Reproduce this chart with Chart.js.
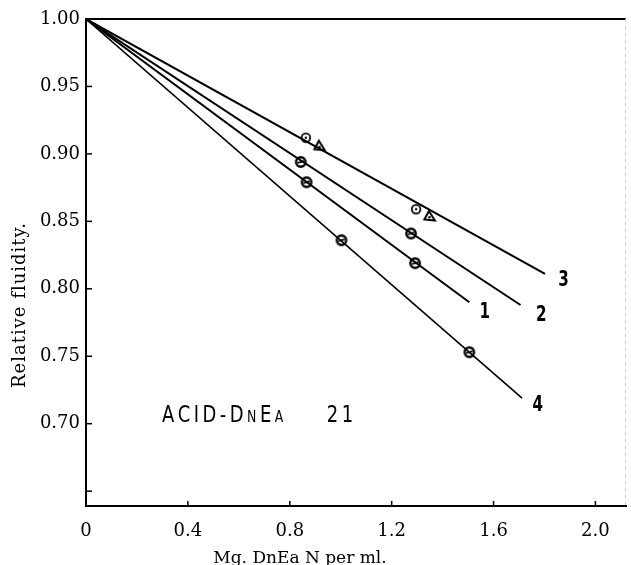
<!DOCTYPE html>
<html>
<head>
<meta charset="utf-8">
<style>
  html, body { margin: 0; padding: 0; background: #fff; }
  #grafico { display: block; }
</style>
</head>
<body>
<canvas id="grafico" width="631" height="565"></canvas>
<script src="https://cdn.jsdelivr.net/npm/chart.js@4/dist/chart.umd.min.js"></script>
<script>
// Eixos
const xTicks = [0, 0.4, 0.8, 1.2, 1.6, 2.0];
const xLabels = ['0', '0.4', '0.8', '1.2', '1.6', '2.0'];
const yTicks = [0.65, 0.70, 0.75, 0.80, 0.85, 0.90, 0.95, 1.00];
const yLabels = ['', '0.70', '0.75', '0.80', '0.85', '0.90', '0.95', '1.00'];

// Retas: todas partem de (0, 1.00)
const lineNames = ['1', '2', '3', '4'];
const lineStartX = [0, 0, 0, 0];
const lineStartY = [1.00, 1.00, 1.00, 1.00];
const lineEndX = [1.505, 1.706, 1.802, 1.712];
const lineEndY = [0.790, 0.788, 0.811, 0.719];

// Pontos medidos
const curve1X = [0.866, 1.292];
const curve1Y = [0.879, 0.819];
const curve2X = [0.843, 1.276];
const curve2Y = [0.894, 0.841];
const curve3X = [0.863, 1.296];
const curve3Y = [0.912, 0.859];
const curve3TriX = [0.918, 1.350];
const curve3TriY = [0.906, 0.854];
const curve4X = [1.003, 1.505];
const curve4Y = [0.836, 0.753];

// Rotulos das retas
const lineLabelX = [1.564, 1.786, 1.874, 1.773];
const lineLabelY = [0.784, 0.782, 0.808, 0.715];

const noteText = [['ACID-D', 1], ['N', 0], ['E', 1], ['A', 0], ['21', 1]];
const noteX = 0.298;
const noteY = 0.707;

function pontos(xs, ys) {
    return xs.map((x, i) => ({ x: x, y: ys[i] }));
}

// Marcadores desenhados a mao
function marcador(tipo) {
    const c = document.createElement('canvas');
    c.width = 16; c.height = 16;
    const g = c.getContext('2d');
    g.strokeStyle = '#000';
    g.fillStyle = '#fff';
    if (tipo === 'circuloPonto') {
        g.lineWidth = 1.8;
        g.beginPath(); g.arc(8, 8, 4.3, 0, Math.PI * 2); g.fill(); g.stroke();
        g.fillStyle = '#000';
        g.beginPath(); g.arc(8, 8, 1.2, 0, Math.PI * 2); g.fill();
    } else if (tipo === 'circuloBarra') {
        g.lineWidth = 2.4;
        g.beginPath(); g.arc(8, 8, 4.7, 0, Math.PI * 2); g.fill(); g.stroke();
        g.lineWidth = 1.8;
        g.beginPath(); g.moveTo(5.0, 8.9); g.lineTo(11.0, 7.1); g.stroke();
    } else {
        g.lineWidth = 2;
        g.beginPath(); g.moveTo(7, 3); g.lineTo(13, 12.5); g.lineTo(2.5, 11.5); g.closePath();
        g.fill(); g.stroke();
        g.fillStyle = '#000';
        g.beginPath(); g.arc(7.6, 9.2, 1.2, 0, Math.PI * 2); g.fill();
    }
    return c;
}

const datasets = [];
lineNames.forEach((nome, i) => {
    datasets.push({
        label: 'Reta ' + nome,
        data: [{ x: lineStartX[i], y: lineStartY[i] }, { x: lineEndX[i], y: lineEndY[i] }],
        showLine: true,
        borderColor: '#000',
        borderWidth: i === 3 ? 1.6 : 2,
        pointRadius: 0,
        fill: false
    });
});
datasets.push({ label: 'Curva 1', data: pontos(curve1X, curve1Y), pointStyle: marcador('circuloBarra') });
datasets.push({ label: 'Curva 2', data: pontos(curve2X, curve2Y), pointStyle: marcador('circuloBarra') });
datasets.push({ label: 'Curva 3', data: pontos(curve3X, curve3Y), pointStyle: marcador('circuloPonto') });
datasets.push({ label: 'Curva 3b', data: pontos(curve3TriX, curve3TriY), pointStyle: marcador('triangulo') });
datasets.push({ label: 'Curva 4', data: pontos(curve4X, curve4Y), pointStyle: marcador('circuloBarra') });

// Texto "manuscrito" comprimido na horizontal
function escreveMao(ctx, texto, x, y, fonte, aperto, espaco) {
    ctx.save();
    ctx.font = fonte;
    ctx.textBaseline = 'alphabetic';
    ctx.textAlign = 'left';
    let px = x;
    for (const ch of texto) {
        ctx.save();
        ctx.translate(px, y);
        ctx.scale(aperto, 1);
        ctx.fillText(ch, 0, 0);
        ctx.restore();
        px += ctx.measureText(ch).width * aperto + espaco;
    }
    ctx.restore();
    return px;
}

const moldura = {
    id: 'moldura',
    afterDraw(chart) {
        const ctx = chart.ctx;
        const a = chart.chartArea;
        const xs = chart.scales.x, ys = chart.scales.y;
        ctx.save();
        ctx.fillStyle = '#000';
        ctx.strokeStyle = '#000';

        // linha superior e direita
        ctx.lineWidth = 2;
        ctx.beginPath(); ctx.moveTo(a.left, a.top); ctx.lineTo(a.right, a.top); ctx.stroke();
        ctx.strokeStyle = '#ccc';
        ctx.lineWidth = 1;
        ctx.setLineDash([3, 4]);
        ctx.beginPath(); ctx.moveTo(a.right - 0.5, a.top); ctx.lineTo(a.right - 0.5, a.bottom); ctx.stroke();
        ctx.setLineDash([]);

        // marcas para dentro
        ctx.strokeStyle = '#000';
        ctx.lineWidth = 1.5;
        yTicks.forEach(v => {
            if (v >= 1) return;
            const py = ys.getPixelForValue(v);
            ctx.beginPath(); ctx.moveTo(a.left, py); ctx.lineTo(a.left + 6, py); ctx.stroke();
        });
        xTicks.forEach(v => {
            if (v === 0) return;
            const px = xs.getPixelForValue(v);
            ctx.beginPath(); ctx.moveTo(px, a.bottom); ctx.lineTo(px, a.bottom - 5); ctx.stroke();
        });

        // titulos dos eixos
        ctx.font = '17px "DejaVu Serif"';
        ctx.textAlign = 'center';
        ctx.textBaseline = 'alphabetic';
        ctx.fillText('Mg. DnEa N per ml.', 300, 563);
        ctx.save();
        ctx.translate(25, 305);
        ctx.rotate(-Math.PI / 2);
        ctx.font = '18px "DejaVu Serif"';
        ctx.letterSpacing = '1px';
        ctx.fillText('Relative fluidity.', 0, 0);
        ctx.restore();

        // numeros das retas
        lineNames.forEach((nome, i) => {
            const px = xs.getPixelForValue(lineLabelX[i]);
            const py = ys.getPixelForValue(lineLabelY[i]);
            escreveMao(ctx, nome, px - 5, py + 8, 'bold 21px "DejaVu Sans"', 0.72, 0);
        });

        // anotacao
        let px = xs.getPixelForValue(noteX);
        const py = ys.getPixelForValue(noteY) + 8;
        noteText.forEach(([txt, grande], k) => {
            if (k === noteText.length - 1) px += 40;
            const f = grande ? '23px "DejaVu Sans"' : '16px "DejaVu Sans"';
            px = escreveMao(ctx, txt, px, py, f, 0.78, 3.5);
        });
        ctx.restore();
    }
};

const ctx = document.getElementById('grafico').getContext('2d');
const grafico = new Chart(ctx, {
    type: 'scatter',
    data: { datasets: datasets },
    options: {
        responsive: false,
        animation: false,
        layout: { padding: { top: 19, right: 1, left: 0, bottom: 0 } },
        plugins: { legend: { display: false }, tooltip: { enabled: false } },
        scales: {
            x: {
                type: 'linear',
                min: 0,
                max: 2.12,
                afterBuildTicks: s => { s.ticks = xTicks.map(v => ({ value: v })); },
                afterFit: s => { s.height = 59; },
                grid: { display: false, drawTicks: false },
                border: { display: true, color: '#000', width: 2 },
                ticks: {
                    autoSkip: false,
                    maxRotation: 0,
                    padding: 15,
                    color: '#000',
                    font: { family: 'DejaVu Serif', size: 18 },
                    callback: (v, i) => xLabels[i]
                }
            },
            y: {
                type: 'linear',
                min: 0.639,
                max: 1.0,
                afterBuildTicks: s => { s.ticks = yTicks.map(v => ({ value: v })); },
                afterFit: s => { s.width = 86; },
                grid: { display: false, drawTicks: false },
                border: { display: true, color: '#000', width: 2 },
                ticks: {
                    autoSkip: false,
                    padding: 6,
                    color: '#000',
                    font: { family: 'DejaVu Serif', size: 18 },
                    callback: (v, i) => yLabels[i]
                }
            }
        }
    },
    plugins: [moldura]
});
</script>
</body>
</html>
